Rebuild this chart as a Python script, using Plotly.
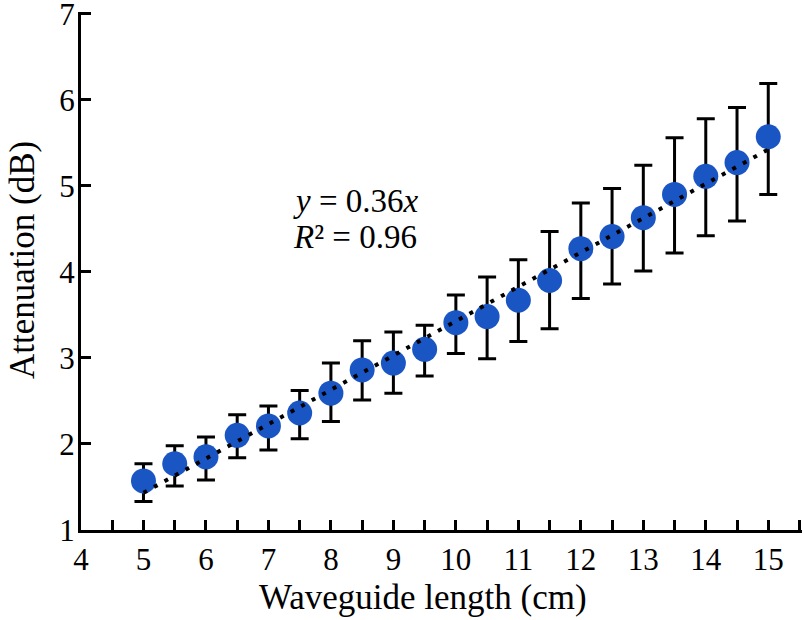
import numpy as np
import plotly.graph_objects as go

# Data
length_cm = [5, 5.5, 6, 6.5, 7, 7.5, 8, 8.5, 9, 9.5, 10,
             10.5, 11, 11.5, 12, 12.5, 13, 13.5, 14, 14.5, 15]
attenuation_db = [1.57, 1.77, 1.85, 2.10, 2.21, 2.36, 2.59, 2.86, 2.94, 3.10, 3.41,
                  3.48, 3.67, 3.90, 4.27, 4.41, 4.63, 4.90, 5.11, 5.27, 5.57]
err_plus = [0.20, 0.21, 0.23, 0.24, 0.23, 0.26, 0.35, 0.34, 0.36, 0.28, 0.32,
            0.46, 0.47, 0.57, 0.53, 0.56, 0.61, 0.66, 0.67, 0.64, 0.62]
err_minus = [0.24, 0.26, 0.27, 0.26, 0.28, 0.30, 0.33, 0.35, 0.35, 0.31, 0.36,
             0.49, 0.48, 0.56, 0.58, 0.55, 0.62, 0.68, 0.69, 0.68, 0.67]
x_ticks = [4, 5, 6, 7, 8, 9, 10, 11, 12, 13, 14, 15]
y_ticks = [1, 2, 3, 4, 5, 6, 7]

# Linear trend line fitted to the data
slope, intercept = np.polyfit(length_cm, attenuation_db, 1)
trend_x = [min(length_cm), max(length_cm)]
trend_y = [slope * v + intercept for v in trend_x]

FONT = "Liberation Serif"

fig = go.Figure()
fig.add_trace(go.Scatter(
    x=length_cm, y=attenuation_db, mode="markers",
    marker=dict(size=25, color="#1A55C4"),
    error_y=dict(type="data", symmetric=False, array=err_plus, arrayminus=err_minus,
                 color="black", thickness=3, width=9),
    showlegend=False,
))
fig.add_trace(go.Scatter(
    x=trend_x, y=trend_y, mode="lines",
    line=dict(color="black", width=4, dash="4px,8px"),
    showlegend=False,
))

# Equation text
fig.add_annotation(
    x=7.36, y=4.82, xref="x", yref="y", xanchor="left", yanchor="middle",
    text="<i>y</i> = 0.36<i>x</i>", showarrow=False,
    font=dict(family=FONT, size=33, color="black"),
)
fig.add_annotation(
    x=7.36, y=4.40, xref="x", yref="y", xanchor="left", yanchor="middle",
    text="<i>R</i>² = 0.96", showarrow=False,
    font=dict(family=FONT, size=33, color="black"),
)

# Axis titles
fig.add_annotation(
    x=0.474, y=-0.131, xref="paper", yref="paper", xanchor="center", yanchor="middle",
    text="Waveguide length (cm)", showarrow=False,
    font=dict(family=FONT, size=35, color="black"),
)
fig.add_annotation(
    x=-0.082, y=0.521, xref="paper", yref="paper", xanchor="center", yanchor="middle",
    text="Attenuation (dB)", showarrow=False, textangle=-90,
    font=dict(family=FONT, size=35, color="black"),
)

axis_common = dict(
    showline=True, linecolor="black", linewidth=3,
    ticks="inside", ticklen=10, tickwidth=3, tickcolor="black",
    showgrid=False, zeroline=False, automargin=False,
    ticklabeloverflow="allow",
    tickfont=dict(family=FONT, size=31, color="black"),
)

fig.update_layout(
    width=804, height=620,
    margin=dict(l=81, r=2, t=12, b=90),
    paper_bgcolor="white", plot_bgcolor="white",
    xaxis=dict(
        range=[4, 15.54], tickvals=x_ticks,
        minor=dict(dtick=0.5, ticks="inside", ticklen=10, tickwidth=3, tickcolor="black"),
        **axis_common,
    ),
    yaxis=dict(
        range=[1, 7.02], tickvals=y_ticks, ticklabelstandoff=-3,
        **axis_common,
    ),
)

fig.write_html("out.html", config={"displayModeBar": False},
               post_script="document.body.style.margin='0px';")
